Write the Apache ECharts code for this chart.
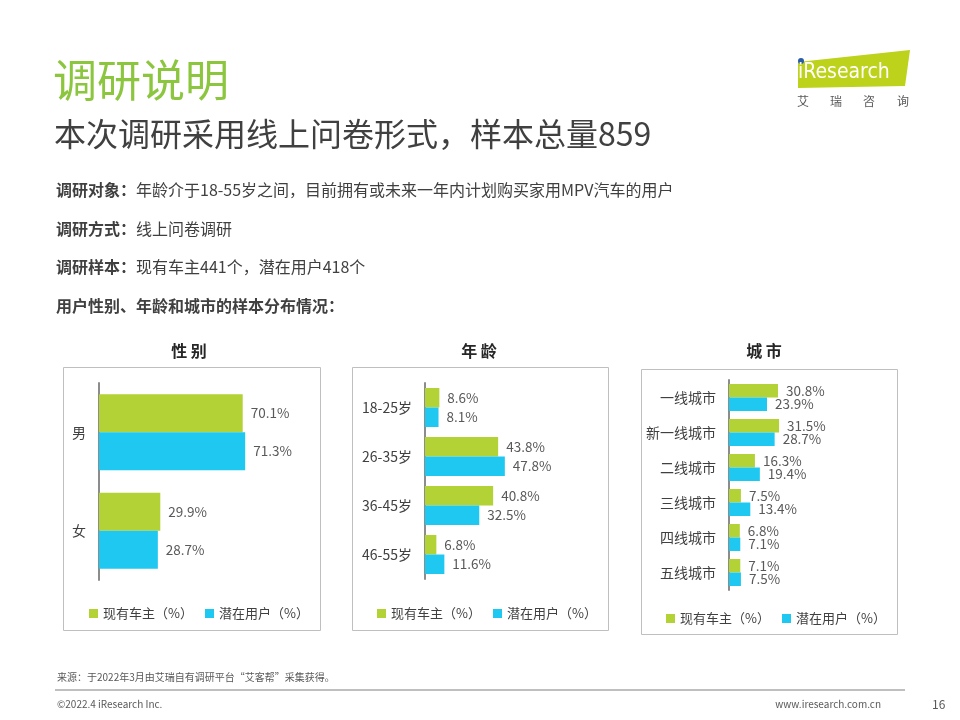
<!DOCTYPE html>
<html>
<head>
<meta charset="utf-8">
<script src="https://cdn.jsdelivr.net/npm/echarts@6/dist/echarts.min.js"></script>
<style>
html,body{margin:0;padding:0;background:#fff;}
#main{width:960px;height:720px;}
</style>
</head>
<body>
<div id="main"></div>
<script>
// ---- data ----
const seriesNames = ['现有车主（%）', '潜在用户（%）'];
const genderCats = ['男', '女'];
const genderOwners = [70.1, 29.9];
const genderPotential = [71.3, 28.7];
const ageCats = ['18-25岁', '26-35岁', '36-45岁', '46-55岁'];
const ageOwners = [8.6, 43.8, 40.8, 6.8];
const agePotential = [8.1, 47.8, 32.5, 11.6];
const cityCats = ['一线城市', '新一线城市', '二线城市', '三线城市', '四线城市', '五线城市'];
const cityOwners = [30.8, 31.5, 16.3, 7.5, 6.8, 7.1];
const cityPotential = [23.9, 28.7, 19.4, 13.4, 7.1, 7.5];
const panelTitles = ['性 别', '年 龄', '城 市'];

const GREEN = '#b2d235';
const BLUE = '#1ec8f1';
const FONT = '"Noto Sans CJK SC", "Noto Sans", sans-serif';

const chart = echarts.init(document.getElementById('main'), null, {renderer: 'canvas'});

const panels = [
  {cats: genderCats, a: genderOwners, b: genderPotential, grid: {left: 99, top: 383, width: 205, height: 197}, bw: 38, legend: {left: 84, top: 602}, box: [63, 367, 257, 263], titleX: 189},
  {cats: ageCats, a: ageOwners, b: agePotential, grid: {left: 425, top: 383, width: 167, height: 196}, bw: 19.5, legend: {left: 372, top: 602}, box: [352, 367, 256, 263], titleX: 479},
  {cats: cityCats, a: cityOwners, b: cityPotential, grid: {left: 729, top: 380, width: 159, height: 210}, bw: 13.5, legend: {left: 661, top: 607}, box: [641, 369, 256, 265], titleX: 764}
];

const grids = [], xAxes = [], yAxes = [], series = [], legends = [], graphics = [];

panels.forEach((p, i) => {
  grids.push(Object.assign({containLabel: false}, p.grid));
  xAxes.push({type: 'value', gridIndex: i, min: 0, max: 100, show: false});
  yAxes.push({
    type: 'category', gridIndex: i, data: p.cats, inverse: true,
    axisLine: {show: true, lineStyle: {color: '#8c8c8c', width: 2}},
    axisTick: {show: false},
    axisLabel: {color: '#404040', fontSize: 14, fontFamily: FONT, margin: 13}
  });
  [p.a, p.b].forEach((vals, k) => {
    series.push({
      type: 'bar', name: seriesNames[k], xAxisIndex: i, yAxisIndex: i,
      data: vals, barWidth: p.bw, barGap: '0%',
      itemStyle: {color: k === 0 ? GREEN : BLUE},
      label: {show: true, position: 'right', distance: 8, color: '#595959', fontSize: 13.5, fontFamily: FONT,
        formatter: (d) => d.value.toFixed(1) + '%'}
    });
  });
  legends.push({
    data: seriesNames, left: p.legend.left, top: p.legend.top, orient: 'horizontal',
    icon: 'rect', itemWidth: 9, itemHeight: 9, itemGap: 12,
    textStyle: {color: '#404040', fontSize: 13, fontFamily: FONT}
  });
  graphics.push({type: 'rect', shape: {x: p.box[0] + 0.5, y: p.box[1] + 0.5, width: p.box[2], height: p.box[3]},
    style: {fill: 'none', stroke: '#bfbfbf', lineWidth: 1}, z: -1});
  graphics.push({type: 'text', x: p.titleX, y: 351, style: {text: panelTitles[i], fill: '#262626', font: 'bold 16px ' + FONT, textAlign: 'center', textVerticalAlign: 'middle'}});
});

const richB = {b: {fontWeight: 'bold', fontSize: 16, fontFamily: FONT, fill: '#404040'}};
// page texts
graphics.push(
  {type: 'text', x: 53, y: 80, style: {text: '调研说明', fill: '#8cc63f', font: '44px ' + FONT, textVerticalAlign: 'middle'}},
  {type: 'text', x: 54, y: 134, style: {text: '本次调研采用线上问卷形式，样本总量859', fill: '#404040', font: '32px ' + FONT, textVerticalAlign: 'middle'}},
  {type: 'text', x: 56, y: 190, style: {text: '{b|调研对象：}年龄介于18-55岁之间，目前拥有或未来一年内计划购买家用MPV汽车的用户', rich: richB, fill: '#404040', font: '16px ' + FONT, textVerticalAlign: 'middle'}},
  {type: 'text', x: 56, y: 229, style: {text: '{b|调研方式：}线上问卷调研', rich: richB, fill: '#404040', font: '16px ' + FONT, textVerticalAlign: 'middle'}},
  {type: 'text', x: 56, y: 267, style: {text: '{b|调研样本：}现有车主441个，潜在用户418个', rich: richB, fill: '#404040', font: '16px ' + FONT, textVerticalAlign: 'middle'}},
  {type: 'text', x: 56, y: 306, style: {text: '用户性别、年龄和城市的样本分布情况：', fill: '#404040', font: 'bold 16px ' + FONT, textVerticalAlign: 'middle'}},
  // footer
  {type: 'text', x: 57, y: 677, style: {text: '来源：于2022年3月由艾瑞自有调研平台“艾客帮”采集获得。', fill: '#595959', font: '10px ' + FONT, textVerticalAlign: 'middle'}},
  {type: 'line', shape: {x1: 55, y1: 690, x2: 905, y2: 690}, style: {stroke: '#bfbfbf', lineWidth: 2}},
  {type: 'text', x: 57, y: 704, style: {text: '©2022.4 iResearch Inc.', fill: '#595959', font: '10px ' + FONT, textVerticalAlign: 'middle'}},
  {type: 'text', x: 881, y: 704, style: {text: 'www.iresearch.com.cn', fill: '#595959', font: '10px ' + FONT, textAlign: 'right', textVerticalAlign: 'middle'}},
  {type: 'text', x: 932, y: 704, style: {text: '16', fill: '#595959', font: '12px ' + FONT, textVerticalAlign: 'middle'}},
  // logo
  {type: 'polygon', shape: {points: [[798, 62], [910, 50], [905, 86], [798, 88]]}, style: {fill: '#bdd21a'}},
  {type: 'circle', shape: {cx: 801, cy: 61, r: 3}, style: {fill: '#2a5ba8'}},
  {type: 'text', x: 798, y: 73, style: {text: 'iResearch', fill: '#ffffff', font: '21px "Liberation Sans Narrow", "DejaVu Sans Condensed", sans-serif', textVerticalAlign: 'middle'}},
  {type: 'text', x: 797, y: 101, style: {text: '艾', fill: '#595959', font: '12px ' + FONT, textVerticalAlign: 'middle'}},
  {type: 'text', x: 830, y: 101, style: {text: '瑞', fill: '#595959', font: '12px ' + FONT, textVerticalAlign: 'middle'}},
  {type: 'text', x: 863, y: 101, style: {text: '咨', fill: '#595959', font: '12px ' + FONT, textVerticalAlign: 'middle'}},
  {type: 'text', x: 897, y: 101, style: {text: '询', fill: '#595959', font: '12px ' + FONT, textVerticalAlign: 'middle'}}
);

chart.setOption({
  animation: false,
  grid: grids,
  xAxis: xAxes,
  yAxis: yAxes,
  legend: legends,
  series: series,
  graphic: graphics
});
</script>
</body>
</html>
